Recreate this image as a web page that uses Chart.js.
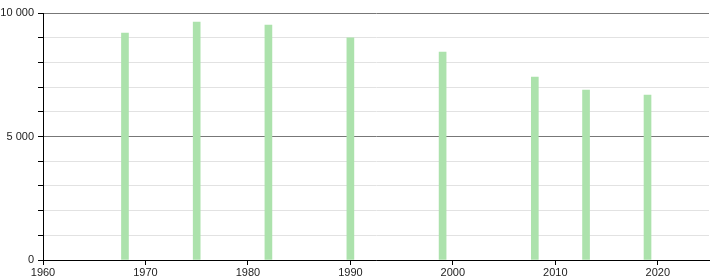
<!DOCTYPE html>
<html>
<head>
<meta charset="utf-8">
<script src="https://cdn.jsdelivr.net/npm/chart.js@4"></script>
<style>
html,body{margin:0;padding:0;background:#fff;}
#wrap{width:720px;height:280px;position:relative;}
</style>
</head>
<body>
<div id="wrap"><canvas id="c" width="720" height="280"></canvas></div>
<script>
const years = [1968, 1975, 1982, 1990, 1999, 2008, 2013, 2019];
const population = [9190, 9630, 9510, 8990, 8420, 7410, 6880, 6680];
const yLabelValues = [0, 5000, 10000];

function fmt(v){ return String(v).replace(/\B(?=(\d{3})+(?!\d))/g, ' '); }

new Chart(document.getElementById('c'), {
  type: 'bar',
  data: {
    datasets: [{
      data: years.map((y, i) => ({x: y, y: population[i]})),
      backgroundColor: 'rgb(172,226,172)',
      borderWidth: 0,
      barThickness: 7
    }]
  },
  options: {
    responsive: false,
    animation: false,
    events: [],
    layout: {padding: {top: 13, right: 11, left: 0, bottom: 0}},
    plugins: {legend: {display: false}, tooltip: {enabled: false}},
    scales: {
      x: {
        type: 'linear',
        offset: false,
        min: 1960, max: 2025,
        afterBuildTicks: s => { s.ticks = s.ticks.filter(t => t.value % 10 === 0); },
        afterFit: s => { s.height = 20; },
        ticks: {stepSize: 10, color: '#222', font: {family: 'Liberation Sans, Arial', size: 11}, padding: 1, maxRotation: 0, autoSkip: false,
          callback: v => String(v)},
        grid: {offset: false, drawOnChartArea: false, tickLength: 5, tickColor: '#000', tickWidth: 1},
        border: {color: '#000', width: 1}
      },
      y: {
        min: 0, max: 10000,
        afterFit: s => { s.width = 43; },
        ticks: {stepSize: 1000, autoSkip: false, color: '#222', font: {family: 'Liberation Sans, Arial', size: 11}, padding: 4,
          callback: v => yLabelValues.includes(v) ? fmt(v) : ''},
        grid: {
          color: ctx => (ctx.tick && ctx.tick.value % 5000 === 0) ? '#777' : '#e2e2e2',
          tickLength: 5, tickColor: '#000', tickWidth: 1
        },
        border: {color: '#000', width: 1}
      }
    }
  }
});
</script>
</body>
</html>
